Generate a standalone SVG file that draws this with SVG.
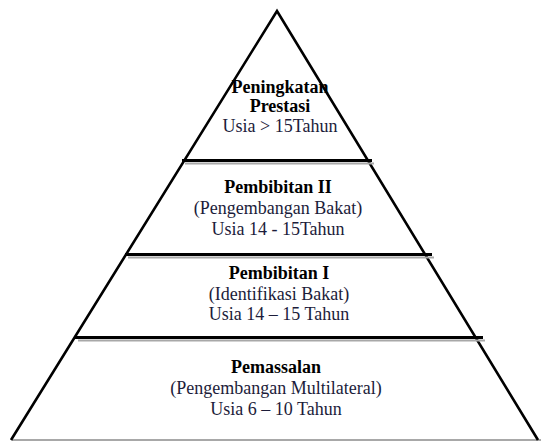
<svg xmlns="http://www.w3.org/2000/svg" width="541" height="441" viewBox="0 0 541 441">
<style>
.edge{stroke:#000;stroke-width:2.6;fill:none;stroke-linecap:butt}
.sep{stroke:#000;stroke-width:3}
.shd{stroke:#a8a8a8;stroke-width:2}
text{font-family:"Liberation Serif","Times New Roman",serif;font-size:18px;text-anchor:middle}
.b{font-weight:bold;fill:#000}
.r{fill:#1c1c3a}
</style>
<rect width="541" height="441" fill="#fff"/>
<g id="pyramid">
<line class="shd" x1="12" y1="440" x2="541" y2="440"/>
<path class="edge" d="M11,440 L277,11 L538,440"/>
</g>
<g id="separators">
<line class="shd" x1="185" y1="163.5" x2="374" y2="163.5"/>
<line class="sep" x1="182" y1="160.5" x2="372" y2="160.5"/>
<line class="shd" x1="128" y1="257.5" x2="434" y2="257.5"/>
<line class="sep" x1="125" y1="254.5" x2="432" y2="254.5"/>
<line class="shd" x1="78" y1="340.5" x2="485" y2="340.5"/>
<line class="sep" x1="75" y1="337.5" x2="483" y2="337.5"/>
</g>
<g id="level-peningkatan">
<text class="b" x="280" y="93">Peningkatan</text>
<text class="b" x="280" y="112">Prestasi</text>
<text class="r" x="280" y="132">Usia &gt; 15Tahun</text>
</g>
<g id="level-pembibitan-2">
<text class="b" x="278" y="193">Pembibitan II</text>
<text class="r" x="278" y="214">(Pengembangan Bakat)</text>
<text class="r" x="278" y="235">Usia 14 - 15Tahun</text>
</g>
<g id="level-pembibitan-1">
<text class="b" x="279" y="279">Pembibitan I</text>
<text class="r" x="279" y="300">(Identifikasi Bakat)</text>
<text class="r" x="279" y="320">Usia 14 – 15 Tahun</text>
</g>
<g id="level-pemassalan">
<text class="b" x="276" y="373">Pemassalan</text>
<text class="r" x="276" y="394">(Pengembangan Multilateral)</text>
<text class="r" x="276" y="415">Usia 6 – 10 Tahun</text>
</g>
</svg>
